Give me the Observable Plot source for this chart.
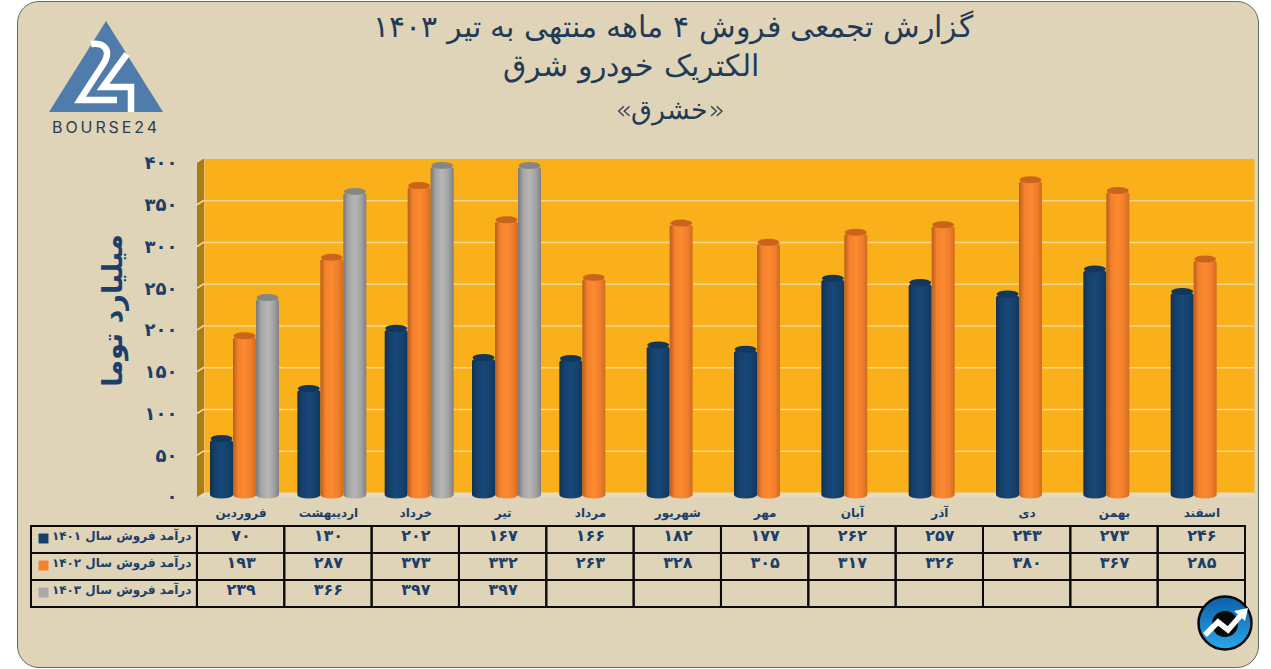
<!DOCTYPE html>
<html lang="fa"><head><meta charset="utf-8">
<script src="https://cdn.jsdelivr.net/npm/d3@7"></script>
<script src="https://cdn.jsdelivr.net/npm/@observablehq/plot@0.6"></script>
<style>
html,body{margin:0;padding:0;background:#fff;width:1271px;height:669px;overflow:hidden}
#card{position:absolute;left:17px;top:1px;width:1242px;height:667px;border-radius:22px;background:#dfd3b8;border:1.5px solid #5d6e62;box-sizing:border-box}
#stage{position:absolute;left:0;top:0;width:1271px;height:669px}
#head{position:relative;height:140px;width:1271px}
.t{position:absolute;white-space:nowrap;transform:translateX(-50%);direction:rtl;font-family:"DejaVu Sans";font-weight:200;color:#1f3b57;line-height:1}
#stage svg{display:block;overflow:visible}
#logo,#badge{position:absolute;left:0;top:0;pointer-events:none}
</style></head><body>
<div id="card"></div>
<div id="stage">
<div id="head">
<div class="t" style="left:673px;top:12px;font-size:30px">گزارش تجمعی فروش ۴ ماهه منتهی به تیر ۱۴۰۳</div>
<div class="t" style="left:631px;top:51px;font-size:30px">الکتریک خودرو شرق</div>
<div class="t" style="left:670px;top:97px;font-size:26.5px">«خشرق»</div>
</div>
<div id="chart"></div>
<div id="table"></div>
</div>
<svg id="logo" width="200" height="140" viewBox="0 0 200 140">
<polygon points="106,21 49,112 163,112" fill="#4f7cab"/>
<path d="M91,44 C104,42 113,50 102,66 L80,100 L117,100" fill="none" stroke="#fff" stroke-width="6.5"/>
<path d="M127,54 L103,87 L131,87 L131,112" fill="none" stroke="#fff" stroke-width="6.5"/>
<text x="106" y="133" text-anchor="middle" font-family="Inter" font-size="16" letter-spacing="2.9" fill="#2b3d4f">BOURSE24</text>
</svg>
<svg id="badge" width="1271" height="669" viewBox="0 0 1271 669">
<defs><linearGradient id="bd" x1="0" y1="0" x2="0" y2="1"><stop offset="0" stop-color="#0c5fa8"/><stop offset="1" stop-color="#2aa7ea"/></linearGradient></defs>
<circle cx="1225" cy="623" r="26.5" fill="url(#bd)" stroke="#0a0a0a" stroke-width="2.5"/>
<circle cx="1225" cy="624" r="13" fill="#0a0a0a"/>
<path d="M1205,635 L1218,622 L1228,630 L1242,614" fill="none" stroke="#fff" stroke-width="5.5"/>
<polygon points="1248,608 1234,611 1245,621" fill="#fff"/>
</svg>
<script>
const months = ["فروردین","اردیبهشت","خرداد","تیر","مرداد","شهریور","مهر","آبان","آذر","دی","بهمن","اسفند"];
const sales1401 = [70,130,202,167,166,182,177,262,257,243,273,246];
const sales1402 = [193,287,373,332,263,328,305,317,326,380,367,285];
const sales1403 = [239,366,397,397];
const yTicks = [0,50,100,150,200,250,300,350,400];
const yLabel = "میلیارد توما";
const rowKeys = ["months","1401","1402","1403"];
const rowLabels = ["درآمد فروش سال ۱۴۰۱","درآمد فروش سال ۱۴۰۲","درآمد فروش سال ۱۴۰۳"];
const rowColors = ["#173f6b","#f5822d","#a9a9a9"];

const NAVY = "#1b3f69", FONT = "'DejaVu Sans'";
const fa = v => String(v).replace(/\d/g, d => "۰۱۲۳۴۵۶۷۸۹"[d]);
const seriesData = arr => arr.map((v,i) => ({month: months[i], value: v}));

const grads = [
 ["gNavy",  ["#11324f","#15406c","#174878","#15416d","#11375a"]],
 ["gOrange",["#b55e1c","#f4802c","#fb8a30","#f07d2b","#cf6c20"]],
 ["gGray",  ["#787878","#a4a4a4","#b6b6b6","#a2a2a2","#808080"]]
];
const defs = () => {
  const d = d3.create("svg:defs");
  for (const [id, stops] of grads) {
    const g = d.append("linearGradient").attr("id", id).attr("x1",0).attr("x2",1).attr("y1",0).attr("y2",0);
    stops.forEach((c,i) => g.append("stop").attr("offset", [0,.22,.5,.78,1][i]).attr("stop-color", c));
  }
  return d.node();
};
// 3-D side wall and floor, placed with the value scale
const wall = (index, {x, y}, values, dim) => {
  const g = d3.create("svg:g");
  const L = dim.marginLeft, R = dim.width - dim.marginRight, dx = 7, dy = 4.5;
  const y0 = y(0), yT = y(400);
  g.append("path").attr("d",`M${L},${y0}L${L+dx},${y0-dy}L${R+9},${y0-dy}L${R+9},${y0}Z`).attr("fill","#e4dac2");
  g.append("path").attr("d",`M${L},${y0}L${L+dx},${y0-dy}L${L+dx},${yT-dy}L${L},${yT}Z`).attr("fill","#a97c14");
  for (const t of yTicks.slice(1,-1))
    g.append("path").attr("d",`M${L},${y(t)}L${L+dx},${y(t)-dy}`).attr("stroke","#f6d79a").attr("stroke-width",1.5);
  return g.node();
};

const bars = (arr, fill, capFill, insetLeft, insetRight) => [
  Plot.barY(seriesData(arr), {x:"month", y:"value", fill:`url(#${fill})`, insetLeft, insetRight, insetBottom:-1.5, rx:11.5, ry:3.5}),
  Plot.barY(seriesData(arr), {x:"month", y1:"value", y2:"value", fill:capFill, insetLeft:insetLeft+.5, insetRight:insetRight+.5, insetTop:-3.5, insetBottom:-3.5, rx:11, ry:3.5})
];

const chart = Plot.plot({
  width:1271, height:359, marginLeft:197, marginRight:26, marginTop:23, marginBottom:2,
  style:{background:"transparent", fontFamily:FONT, fontWeight:"bold", fontSize:"14px", color:NAVY},
  x:{type:"band", domain:months, padding:0, round:false, axis:null},
  y:{domain:[0,400], axis:null},
  marks:[
    defs,
    Plot.frame({fill:"#fab01a", stroke:null, dx:7, dy:-4.5, insetRight:-2}),
    wall,
    Plot.ruleY(yTicks.slice(1,-1), {stroke:"#f9d68c", strokeWidth:1.5, dx:7, dy:-4.5, insetRight:-2}),
    ...bars(sales1401,"gNavy","#12375a",13,51.33),
    ...bars(sales1402,"gOrange","#c9641c",36,28.33),
    ...bars(sales1403,"gGray","#868686",59,5.33),
    Plot.axisY(yTicks, {anchor:"left", tickSize:0, tickPadding:20, tickFormat:fa, label:null, fill:NAVY, fontSize:18, fontWeight:"bold"}),
    Plot.text([yLabel], {frameAnchor:"left", dx:-84, dy:-20, rotate:-90, fontSize:27, fontWeight:"bold", fill:NAVY, lineAnchor:"middle", textAnchor:"middle"})
  ]
});
document.getElementById("chart").append(chart);

// data table, with rows on a band scale and month columns on an index scale
const rows = rowKeys.slice(1);
const cols = months.map((m,i) => i);
const LEFT = -1.9;
const tableCells = [];
rows.forEach(r => { tableCells.push({r, x1:LEFT, x2:0}); cols.forEach(i => tableCells.push({r, x1:i, x2:i+1})); });
const tableText = [];
[sales1401,sales1402,sales1403].forEach((arr,k) => arr.forEach((v,i) => tableText.push({r:rows[k], i:i+.5, t:fa(v)})));

const table = Plot.plot({
  width:1271, height:110, marginLeft:31, marginRight:26, marginTop:0, marginBottom:2,
  style:{background:"transparent", fontFamily:FONT, fontWeight:"bold", fontSize:"12px", color:NAVY},
  x:{type:"linear", domain:[LEFT,12], axis:null},
  y:{type:"band", domain:rowKeys, padding:0, round:false, axis:null},
  marks:[
    Plot.barX(tableCells, {x1:"x1", x2:"x2", y:"r", fill:"none", stroke:"#0b0b0b", strokeWidth:2}),
    Plot.ruleX(d3.range(13), {x:d=>d, y:()=>"months", stroke:"#0b0b0b", strokeWidth:2}),
    Plot.text(months, {x:(d,i)=>i+.5, y:()=>"months", text:d=>d, fill:NAVY, fontSize:12, fontWeight:"bold"}),
    Plot.text(tableText, {x:"i", y:"r", text:"t", fill:NAVY, fontSize:16, fontWeight:"bold", dy:-4}),
    Plot.text(rows, {x:-0.07, y:d=>d, text:(d,i)=>rowLabels[i], textAnchor:"end", fill:NAVY, fontSize:12, fontWeight:"bold", dy:-4}),
    Plot.dot(rows, {x:LEFT, y:d=>d, dx:12, dy:-1.5, symbol:"square", r:5.6, fill:(d,i)=>rowColors[i], stroke:null})
  ]
});
document.getElementById("table").append(table);
</script>
</body></html>
